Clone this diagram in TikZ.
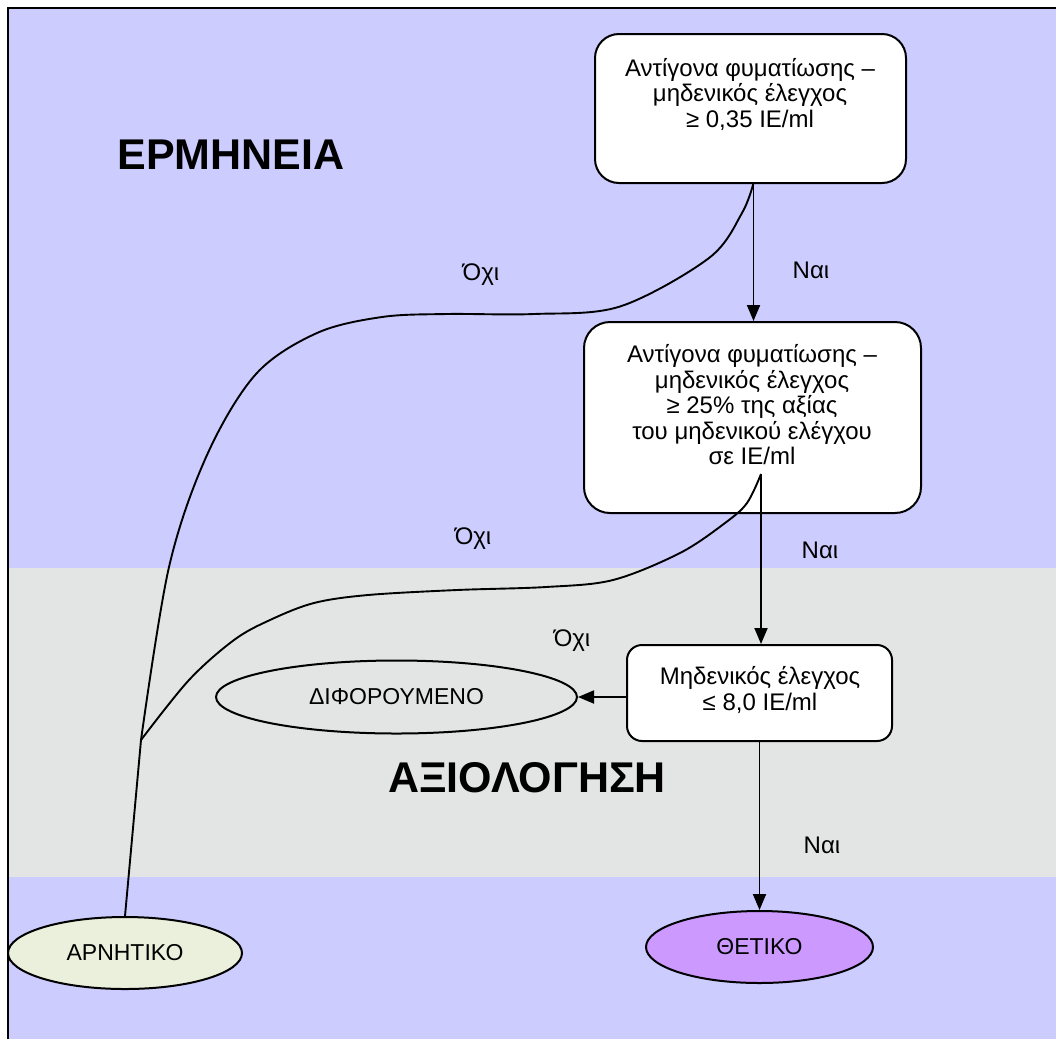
\documentclass[tikz,border=0pt]{standalone}
\usepackage{fontspec}
\setmainfont{Liberation Sans}
\usetikzlibrary{arrows.meta,shapes.geometric}
\definecolor{bgblue}{HTML}{CCCCFF}
\definecolor{bggrey}{HTML}{E3E5E4}
\definecolor{negfill}{HTML}{EBF0DC}
\definecolor{posfill}{HTML}{CC99FF}
\begin{document}
\begin{tikzpicture}[x=1pt,y=-1pt,
  boxshape/.style={draw, line width=2pt, fill=white, rounded corners=#1, inner sep=0pt},
  boxtext/.style={align=center, font=\fontsize{24}{25.5}\selectfont, inner sep=0pt},
  oval/.style={draw, ellipse, line width=2pt, inner sep=0pt, font=\fontsize{23}{25}\selectfont},
  arr/.style={line width=1.9pt, -{Triangle[length=16pt,width=13pt]}},
  link/.style={line width=1.9pt},
  lbl/.style={font=\fontsize{24}{26}\selectfont, inner sep=0pt},
  bigtitle/.style={font=\fontsize{43}{45}\selectfont\bfseries, inner sep=0pt}]
\useasboundingbox (0,0) rectangle (1056,1039);
\fill[white] (0,0) rectangle (1056,1039);
\fill[bgblue] (8,8) rectangle (1056,1039);
\fill[bggrey] (8,568) rectangle (1056,877);
\draw[line width=2pt] (8,1039) -- (8,8) -- (1056,8);

\node[bigtitle] (t1) at (231,155) {ΕΡΜΗΝΕΙΑ};
\node[bigtitle] (t2) at (527,778) {ΑΞΙΟΛΟΓΗΣΗ};

% boxes
\node[boxshape=24pt, minimum width=311pt, minimum height=149pt] (b1) at (750.5,108.5) {};
\node[boxtext] (b1t) at (750,94) {Αντίγονα φυματίωσης –\\μηδενικός έλεγχος\\≥ 0,35 IE/ml};
\node[boxshape=26pt, minimum width=337pt, minimum height=191pt] (b2) at (752.5,417.5) {};
\node[boxtext] (b2t) at (752,405) {Αντίγονα φυματίωσης –\\μηδενικός έλεγχος\\≥ 25\% της αξίας\\ του μηδενικού ελέγχου\\σε IE/ml};
\node[boxshape=15pt, minimum width=265pt, minimum height=96pt] (b3) at (759.5,693) {};
\node[boxtext] (b3t) at (760,690) {Μηδενικός έλεγχος\\≤ 8,0 IE/ml};

% ellipses
\node[oval, fill=negfill, minimum width=234pt, minimum height=72pt] (neg) at (125,953) {ΑΡΝΗΤΙΚΟ};
\node[oval, fill=posfill, minimum width=227pt, minimum height=72pt] (pos) at (759.5,947) {ΘΕΤΙΚΟ};
\node[oval, minimum width=361pt, minimum height=73pt] (dif) at (396.5,697) {ΔΙΦΟΡΟΥΜΕΝΟ};

% connectors
\coordinate (s1) at (753.5,183);
\coordinate (s2) at (761,474);
\coordinate (j) at (141,740);
\draw[arr] (s1) -- (s1 |- b2.north);
\draw[arr] (s2) -- (s2 |- b3.north);
\draw[arr] (b3.west |- dif.east) -- (dif.east);
\draw[arr] (b3.south -| pos.north) -- (pos.north);

\draw[link] plot[smooth, tension=0.55] coordinates {(s1) (742,213) (709,258) (620,306.5) (534,314) (447,314) (382,317) (317,333) (256,374) (207,455) (169,567) (j)} -- (neg.north);
\draw[link] plot[smooth, tension=0.55] coordinates {(s2) (747,503) (725,523) (680,553) (613,580) (546,587) (457,590) (368,595) (314,603) (270,620) (234,640) (189,680) (j)};

% labels
\node[lbl] (no1) at (481,275) {Όχι};
\node[lbl] (no2) at (473,539) {Όχι};
\node[lbl] (no3) at (572,641) {Όχι};
\node[lbl] (yes1) at (811,270) {Ναι};
\node[lbl] (yes2) at (820,550) {Ναι};
\node[lbl] (yes3) at (822,845) {Ναι};
\end{tikzpicture}
\end{document}
